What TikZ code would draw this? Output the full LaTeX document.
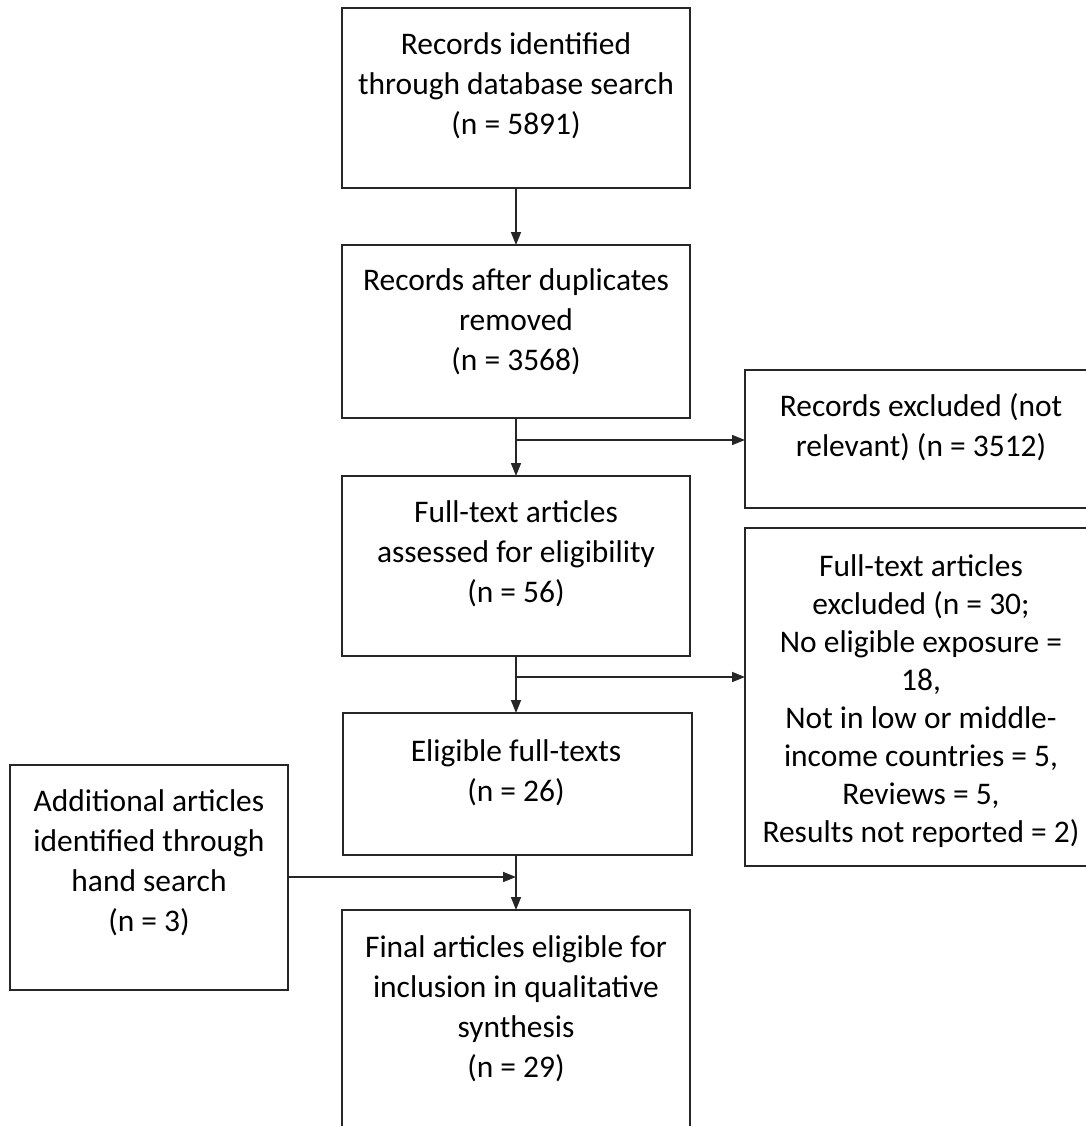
\documentclass[tikz,border=0pt]{standalone}
\usepackage{fontspec}
\setmainfont{Carlito}
\usetikzlibrary{arrows.meta}
\begin{document}
\begin{tikzpicture}[
  box/.style={draw=black!85, line width=0.9pt, inner sep=0pt, outer sep=0pt, anchor=north west},
  txt/.style={inner sep=0pt, outer sep=0pt, align=center, anchor=north, font=\fontsize{17.9}{22.7}\selectfont},
  txtb/.style={txt, font=\fontsize{17.9}{21.6}\selectfont},
  arr/.style={draw=black!85, line width=0.9pt, -{Triangle[length=0.26cm, width=0.2cm]}},
  ln/.style={draw=black!85, line width=0.9pt}
]
\useasboundingbox (0,0) rectangle (21.72,-22.52);
\clip (0,0) rectangle (21.72,-22.52);
% boxes
\node[box, minimum width=6.96cm, minimum height=3.60cm] (b1) at (6.84,-0.16) {};
\node[box, minimum width=6.96cm, minimum height=3.46cm] (b2) at (6.84,-4.90) {};
\node[box, minimum width=7.04cm, minimum height=2.76cm] (b3) at (14.90,-7.40) {};
\node[box, minimum width=6.96cm, minimum height=3.60cm] (b4) at (6.84,-9.52) {};
\node[box, minimum width=7.04cm, minimum height=6.76cm] (b5) at (14.90,-10.56) {};
\node[box, minimum width=6.98cm, minimum height=2.84cm] (b6) at (6.86,-14.26) {};
\node[box, minimum width=5.56cm, minimum height=4.50cm] (b7) at (0.20,-15.30) {};
\node[box, minimum width=6.96cm, minimum height=4.80cm] (b8) at (6.84,-18.20) {};
% texts
\node[txt] (t1) at (10.32,-0.66) {Records identified\\through database search\\(n = 5891)};
\node[txt] (t2) at (10.32,-5.38) {Records after duplicates\\removed\\(n = 3568)};
\node[txt] (t3) at (18.42,-7.88) {Records excluded (not\\relevant) (n = 3512)};
\node[txt] (t4) at (10.32,-10.02) {Full-text articles\\assessed for eligibility\\(n = 56)};
\node[txtb] (t5) at (18.42,-11.10) {Full-text articles\\excluded (n = 30;\\No eligible exposure =\\18,\\Not in low or middle-\\income countries = 5,\\Reviews = 5,\\Results not reported = 2)};
\node[txt] (t6) at (10.32,-14.80) {Eligible full-texts\\(n = 26)};
\node[txt] (t7) at (2.98,-15.80) {Additional articles\\identified through\\hand search\\(n = 3)};
\node[txt] (t8) at (10.32,-18.72) {Final articles eligible for\\inclusion in qualitative\\synthesis\\(n = 29)};
% connectors
\draw[arr] (b1.south) -- (b2.north);
\draw[arr] (b2.south) -- (b4.north);
\path (b2.south) ++(0,-0.44) coordinate (j1);
\draw[arr] (j1) -- (j1 -| b3.west);
\draw[arr] (b4.south) -- (b4.south |- b6.north);
\path (b4.south) ++(0,-0.42) coordinate (j2);
\draw[arr] (j2) -- (j2 -| b5.west);
\draw[arr] (b4.south |- b6.south) -- (b4.south |- b8.north);
\path (b4.south |- b6.south) ++(0,-0.44) coordinate (j3);
\draw[arr] (j3 -| b7.east) -- (j3);
\end{tikzpicture}
\end{document}
